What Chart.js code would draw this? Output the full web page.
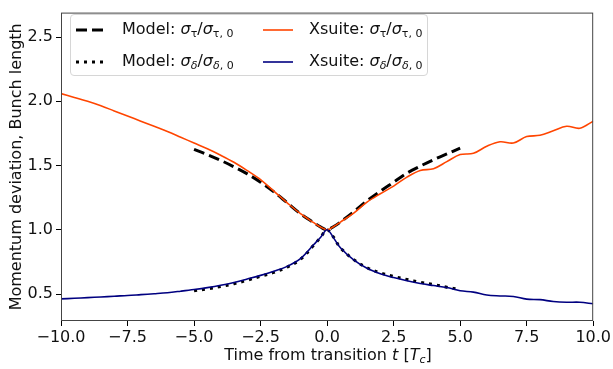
<!DOCTYPE html>
<html>
<head>
<meta charset="utf-8">
<script src="https://cdn.jsdelivr.net/npm/chart.js@4"></script>
<style>
  body { margin: 0; background: #fff; }
  #wrap { position: relative; width: 613px; height: 369px; font-family: 'DejaVu Sans', sans-serif; }
  #legend { position: absolute; left: 70px; top: 14px; width: 356px; height: 60px;
    border: 1px solid #d6d6d6; border-radius: 4px; background: rgba(255,255,255,.8);
    font-size: 16px; color: #111; }
  .lg { position: absolute; display: flex; align-items: center; white-space: nowrap; }
  .lg svg { margin-right: 16px; }
  .lg sub { font-size: 11px; vertical-align: -3px; }
  #xtitle { position: absolute; left: 61px; width: 534px; top: 345px; text-align: center;
    font-size: 16px; color: #111; }
  #xtitle sub { font-size: 11px; vertical-align: -3px; }
</style>
</head>
<body>
<div id="wrap">
  <canvas id="c" width="613" height="369"></canvas>
  <div id="legend"></div>
  <div id="xtitle">Time from transition <i>t</i> [<i>T<sub>c</sub></i>]</div>
</div>
<script>
// xsuite simulation samples
const X_SIM = [-10, -9.5, -9, -8.5, -8, -7.5, -7, -6.5, -6, -5.5, -5, -4.5, -4, -3.5, -3, -2.5, -2, -1.5, -1, -0.5, -0.25,
  0, 0.25, 0.5, 1, 1.5, 2, 2.5, 3, 3.5, 4, 4.5, 5, 5.5, 6, 6.5, 7, 7.5, 8, 8.5, 9, 9.5, 10];
const TAU_SIM = [2.06, 2.03, 2.0, 1.965, 1.925, 1.885, 1.845, 1.805, 1.765, 1.72, 1.675, 1.63, 1.58, 1.525, 1.46, 1.39, 1.30, 1.21, 1.125, 1.055, 1.022,
  1.0, 1.025, 1.06, 1.13, 1.215, 1.28, 1.34, 1.41, 1.462, 1.475, 1.53, 1.585, 1.595, 1.65, 1.685, 1.675, 1.725, 1.735, 1.77, 1.805, 1.79, 1.845];
const DELTA_SIM = [0.462, 0.467, 0.472, 0.477, 0.483, 0.488, 0.495, 0.502, 0.51, 0.522, 0.535, 0.55, 0.568, 0.59, 0.617, 0.645, 0.678, 0.715, 0.775, 0.885, 0.94,
  1.0, 0.935, 0.86, 0.765, 0.70, 0.658, 0.628, 0.603, 0.582, 0.566, 0.55, 0.525, 0.515, 0.492, 0.485, 0.481, 0.46, 0.456, 0.442, 0.436, 0.436, 0.424];

// analytic model
const X_MODEL = [-5, -4.5, -4, -3.5, -3, -2.5, -2, -1.5, -1, -0.5, -0.25, 0, 0.25, 0.5, 1, 1.5, 2, 2.5, 3, 3.5, 4, 4.5, 5];
const TAU_MODEL = [1.625, 1.585, 1.54, 1.49, 1.435, 1.37, 1.295, 1.21, 1.125, 1.055, 1.022, 1.0, 1.025, 1.06, 1.14, 1.225, 1.30, 1.37, 1.44, 1.495, 1.545, 1.59, 1.635];
const DELTA_MODEL = [0.525, 0.54, 0.558, 0.58, 0.607, 0.638, 0.668, 0.71, 0.77, 0.88, 0.94, 1.0, 0.94, 0.86, 0.768, 0.705, 0.665, 0.637, 0.613, 0.592, 0.573, 0.553, 0.535];

const X_TICKS = [-10, -7.5, -5, -2.5, 0, 2.5, 5, 7.5, 10];
const Y_TICKS = [0.5, 1.0, 1.5, 2.0, 2.5];

const pts = (xs, ys) => xs.map((x, i) => ({ x, y: ys[i] }));
const fmt = (v, d) => (v < 0 ? '\u2212' : '') + Math.abs(v).toFixed(d);

const datasets = [
  { label: 'Model: <i>σ</i><sub>τ</sub>/<i>σ</i><sub>τ, 0</sub>', data: pts(X_MODEL, TAU_MODEL),
    borderColor: '#000', borderWidth: 3, borderDash: [11, 5], order: 4, kind: 'dash' },
  { label: 'Model: <i>σ</i><sub><i>δ</i></sub>/<i>σ</i><sub><i>δ</i>, 0</sub>', data: pts(X_MODEL, DELTA_MODEL),
    borderColor: '#000', borderWidth: 3, borderDash: [3, 5], order: 3, kind: 'dot' },
  { label: 'Xsuite: <i>σ</i><sub>τ</sub>/<i>σ</i><sub>τ, 0</sub>', data: pts(X_SIM, TAU_SIM),
    borderColor: '#ff4500', borderWidth: 1.6, order: 2, kind: 'line' },
  { label: 'Xsuite: <i>σ</i><sub><i>δ</i></sub>/<i>σ</i><sub><i>δ</i>, 0</sub>', data: pts(X_SIM, DELTA_SIM),
    borderColor: '#000080', borderWidth: 1.6, order: 1, kind: 'line' },
];

// full box around the plot area like matplotlib spines
const frame = {
  id: 'frame',
  afterDraw(chart) {
    const { ctx, chartArea: a } = chart;
    ctx.save();
    ctx.strokeStyle = '#444'; ctx.lineWidth = 1;
    ctx.strokeRect(a.left + .5, a.top + .5, a.right - a.left - 1, a.bottom - a.top - 1);
    ctx.restore();
  },
};

new Chart(document.getElementById('c'), {
  type: 'line',
  data: { datasets: datasets.map(d => ({ ...d, fill: false, pointRadius: 0, tension: 0.35 })) },
  options: {
    responsive: false, animation: false,
    layout: { padding: { top: 7, right: 18, left: 0, bottom: 0 } },
    plugins: { legend: { display: false }, tooltip: { enabled: false } },
    scales: {
      x: {
        type: 'linear', min: -10, max: 10,
        afterBuildTicks: s => { s.ticks = X_TICKS.map(v => ({ value: v })); },
        afterFit: s => { s.height = 48; },
        border: { display: false },
        grid: { drawOnChartArea: false, tickLength: 5, color: '#000' },
        ticks: { color: '#111', font: { family: 'DejaVu Sans', size: 16 }, padding: 2, maxRotation: 0,
          callback: v => fmt(v, 1) },
      },
      y: {
        min: 0.29, max: 2.69,
        afterBuildTicks: s => { s.ticks = Y_TICKS.map(v => ({ value: v })); },
        afterFit: s => { s.width = 61; },
        border: { display: false },
        grid: { drawOnChartArea: false, tickLength: 5, color: '#000' },
        ticks: { color: '#111', font: { family: 'DejaVu Sans', size: 16 }, padding: 3,
          callback: v => fmt(v, 1) },
        title: { display: true, text: 'Momentum deviation, Bunch length', color: '#111',
          font: { family: 'DejaVu Sans', size: 16 }, padding: { top: 7, bottom: 2 } },
      },
    },
  },
  plugins: [frame],
});

// two-column legend inside the plot, top left
const handle = (d) => {
  const dash = d.kind === 'dash' ? 'stroke-dasharray="11 5"' : d.kind === 'dot' ? 'stroke-dasharray="3 5"' : '';
  const w = d.kind === 'line' ? 1.6 : 3;
  return `<svg width="30" height="10"><line x1="0" y1="5" x2="30" y2="5" stroke="${d.borderColor}" stroke-width="${w}" ${dash}/></svg>`;
};
const pos = [[5, 4], [5, 36], [192, 4], [192, 36]];
document.getElementById('legend').innerHTML = datasets.map((d, i) =>
  `<span class="lg" style="left:${pos[i][0]}px;top:${pos[i][1]}px">${handle(d)}<span>${d.label}</span></span>`).join('');
</script>
</body>
</html>
